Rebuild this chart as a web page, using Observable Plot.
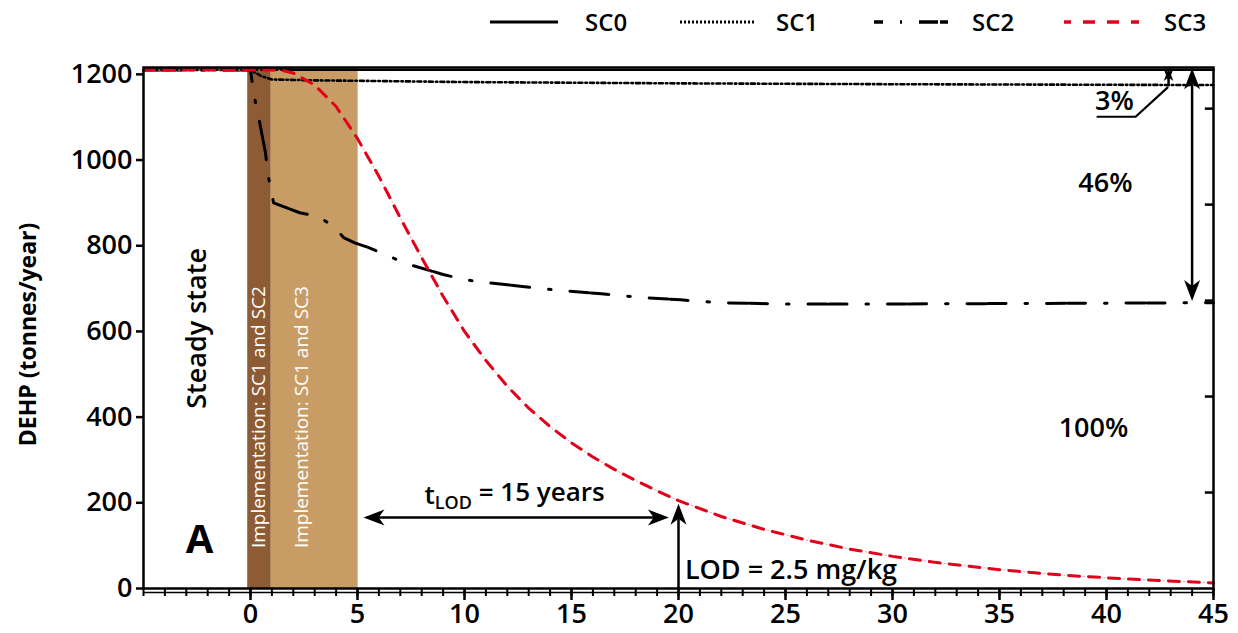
<!DOCTYPE html>
<html>
<head>
<meta charset="utf-8">
<script src="https://cdn.jsdelivr.net/npm/d3@7"></script>
<script src="https://cdn.jsdelivr.net/npm/@observablehq/plot@0.6"></script>
<style>
  html, body { margin: 0; padding: 0; background: #fff; }
  body { width: 1238px; height: 633px; overflow: hidden; font-family: "Open Sans", sans-serif; }
  #legend { display: block; }
  #chart svg { display: block; }
</style>
</head>
<body>
<svg id="legend" width="1238" height="45"></svg>
<div id="chart"></div>
<script>
// ---------- data ----------
const seriesNames = ["SC0", "SC1", "SC2", "SC3"];

const sc0Years  = [-5, 45];
const sc0Values = [1211, 1211];

const sc1Years  = [-5, 0, 0.5, 1, 3, 5, 10, 20, 30, 45];
const sc1Values = [1210, 1210, 1196, 1188, 1186, 1185, 1182, 1179, 1177, 1175];

const sc2Years  = [-5, 0, 0.15, 0.35, 0.7, 0.8, 0.98, 1.08, 2.3, 3.2, 4.0, 4.35, 4.9, 5.5, 6.4, 7.3, 9.0, 10.0, 11.0, 12.7, 13.6, 14.6, 16.4, 17.3, 18.3, 20.1, 21.0, 22.0, 23.8, 25, 30, 35, 40, 45];
const sc2Values = [1210, 1210, 1155, 1108, 1017, 971, 924, 900, 877, 868, 840, 819, 806, 796, 777, 758, 733, 721, 714, 705, 700, 695, 688, 684, 679, 674, 670, 667, 665, 664, 664, 665, 666, 667];

const sc3Years  = [-5, 0, 1, 1.5, 2, 3, 4, 5, 6, 7, 8, 9, 10, 11, 12, 13, 14, 15, 16, 17, 18, 19, 20, 22, 24, 26, 28, 30, 32, 35, 38, 41, 45];
const sc3Values = [1210, 1210, 1210, 1209, 1203, 1175, 1125, 1050, 962, 865, 772, 682, 600, 532, 472, 421, 378, 340, 307, 278, 252, 228, 205, 168, 138, 113, 92, 75, 61, 44, 31, 22, 13];

const xMajorTicks = [0, 5, 10, 15, 20, 25, 30, 35, 40, 45];
const xMinorTicks = d3.range(-5, 46, 1);
const yTicks = [0, 200, 400, 600, 800, 1000, 1200];
const yRightTicks = [224, 448, 672, 896, 1120];

const bandStarts = [-0.13, 0.97];
const bandEnds   = [0.97, 5.03];
const bandFills  = ["#8d5c35", "#c89d65"];

const yLabel = "DEHP (tonnes/year)";
const yLabelY = 593;

// annotations (data units)
const noteTexts = ["Steady state", "A", "3%", "46%", "100%", "LOD = 2.5 mg/kg"];
const noteX     = [-2.49, -2.38, 40.37, 39.95, 39.39, 20.3];
const noteY     = [607, 112, 1138, 945, 373, 42];

const implTexts = ["Implementation: SC1 and SC2", "Implementation: SC1 and SC3"];
const implX     = [0.37, 2.41];
const implY     = [400, 400];

const tlodText = "tLOD = 15 years";
const tlodX = 12.34, tlodY = 217;

// arrows: shafts and heads
const shaftX1 = [5.5, 20, 44.0, 42.9];
const shaftY1 = [166, 0, 1200, 1205];
const shaftX2 = [19.3, 20, 44.0, 42.9];
const shaftY2 = [166, 185, 690, 1172];

const bigHeadX   = [5.28, 19.55, 20, 44.0, 44.0];
const bigHeadY   = [166, 166, 198, 1214, 671];
const bigHeadRot = [270, 90, 0, 0, 180];

const smallHeadX   = [42.9, 42.9];
const smallHeadY   = [1214, 1183];
const smallHeadRot = [0, 180];

const leaderX = [39.58, 41.36, 42.85];
const leaderY = [1101, 1101, 1169];

// ---------- build tables ----------
const toRows = (xs, ys) => xs.map((x, i) => ({x, y: ys[i]}));
const sc0 = toRows(sc0Years, sc0Values);
const sc1 = toRows(sc1Years, sc1Values);
const sc2 = toRows(sc2Years, sc2Values);
const sc3 = toRows(sc3Years, sc3Values);
const bands = bandStarts.map((s, i) => ({x1: s, x2: bandEnds[i], fill: bandFills[i]}));
const notes = noteTexts.map((t, i) => ({t, x: noteX[i], y: noteY[i]}));
const impls = implTexts.map((t, i) => ({t, x: implX[i], y: implY[i]}));
const shafts = shaftX1.map((x1, i) => ({x1, y1: shaftY1[i], x2: shaftX2[i], y2: shaftY2[i]}));
const bigHeads = bigHeadX.map((x, i) => ({x, y: bigHeadY[i], rot: bigHeadRot[i]}));
const smallHeads = smallHeadX.map((x, i) => ({x, y: smallHeadY[i], rot: smallHeadRot[i]}));
const leader = toRows(leaderX, leaderY);

const arrowSymbol = {
  draw(ctx, size) {
    const r = Math.sqrt(size / Math.PI);
    const L = 2.1 * r, w = 0.8 * r;
    ctx.moveTo(0, 0);
    ctx.lineTo(w, L);
    ctx.lineTo(0, 0.72 * L);
    ctx.lineTo(-w, L);
    ctx.closePath();
  }
};

const FONT = "Open Sans";
const yMax = 1216;

const chart = Plot.plot({
  width: 1238,
  height: 588,
  marginLeft: 143,
  marginRight: 25,
  marginTop: 22,
  marginBottom: 45,
  style: {fontFamily: FONT, color: "black", background: "white", overflow: "visible"},
  x: {domain: [-5, 45]},
  y: {domain: [0, yMax]},
  marks: [
    Plot.rectY(bands, {x1: "x1", x2: "x2", y1: 0, y2: yMax, fill: "fill"}),
    // series
    Plot.line(sc0, {x: "x", y: "y", stroke: "black", strokeWidth: 2.5}),
    Plot.line(sc1, {x: "x", y: "y", stroke: "black", strokeWidth: 2.6, strokeDasharray: "4 3 1.5 3"}),
    Plot.line(sc2, {x: "x", y: "y", stroke: "black", strokeWidth: 3, strokeDasharray: "19 2 18 19 2.5 19"}),
    Plot.line(sc3, {x: "x", y: "y", stroke: "#f2a5ad", strokeWidth: 1, strokeDasharray: "1.5 18.5", strokeDashoffset: -15}),
    Plot.line(sc3, {x: "x", y: "y", stroke: "#e2001a", strokeWidth: 3, strokeDasharray: "11 9"}),
    // frame and axes
    Plot.frame({stroke: "black", strokeWidth: 2.5}),
    Plot.ruleY([0], {dy: 4, stroke: "black", strokeWidth: 1.5}),
    Plot.ruleY(yRightTicks, {x1: 45, x2: 44.62, stroke: "black", strokeWidth: 2.5}),
    Plot.axisY({ticks: yTicks, tickFormat: d => String(d), tickSize: 7, tickPadding: 4, fontSize: 27, fontWeight: 600, label: null, strokeWidth: 2.5}),
    Plot.axisX({ticks: xMinorTicks, tickSize: 8, tickFormat: () => "", label: null, strokeWidth: 2}),
    Plot.axisX({ticks: xMajorTicks, tickFormat: d => String(d), tickSize: 12, tickPadding: 3, fontSize: 27, fontWeight: 600, label: null, strokeWidth: 2.5}),
    Plot.text([yLabel], {x: -5, y: yLabelY, dx: -115, rotate: -90, textAnchor: "middle", fontSize: 23, fontWeight: 700, fill: "black"}),
    // annotations
    Plot.text(impls, {x: "x", y: "y", text: "t", rotate: -90, fontSize: 19, fill: "white"}),
    Plot.text(notes.filter(d => d.t === "Steady state"), {x: "x", y: "y", text: "t", rotate: -90, fontSize: 27, fontWeight: 600, fill: "black"}),
    Plot.text(notes.filter(d => d.t === "A"), {x: "x", y: "y", text: "t", fontSize: 40, fontWeight: 700, fill: "black"}),
    Plot.text(notes.filter(d => d.t.endsWith("%")), {x: "x", y: "y", text: "t", fontSize: 27, fontWeight: 600, fill: "black"}),
    Plot.text(notes.filter(d => d.t.startsWith("LOD")), {x: "x", y: "y", text: "t", textAnchor: "start", fontSize: 27, fontWeight: 600, fill: "black"}),
    Plot.text([{t: tlodText, x: tlodX, y: tlodY}], {x: "x", y: "y", text: "t", fontSize: 26, fontWeight: 600, fill: "black", className: "tlod"}),
    Plot.link(shafts, {x1: "x1", y1: "y1", x2: "x2", y2: "y2", stroke: "black", strokeWidth: 2.5}),
    Plot.line(leader, {x: "x", y: "y", stroke: "black", strokeWidth: 2.2}),
    Plot.dot(bigHeads, {x: "x", y: "y", rotate: "rot", r: 10, symbol: arrowSymbol, fill: "black", stroke: "none"}),
    Plot.dot(smallHeads, {x: "x", y: "y", rotate: "rot", r: 6, symbol: arrowSymbol, fill: "black", stroke: "none"})
  ]
});
document.getElementById("chart").appendChild(chart);

// subscript for t_LOD
d3.select(chart).selectAll(".tlod text").each(function() {
  const el = d3.select(this);
  el.text(null);
  el.append("tspan").text("t");
  el.append("tspan").attr("dy", "0.3em").attr("font-size", 18).text("LOD");
  el.append("tspan").attr("dy", "-0.3em").text(" = 15 years");
});

// ---------- legend ----------
const legendLineX1 = [490, 680, 874, 1064];
const legendLineX2 = [558, 756, 950, 1140];
const legendTextX  = [585, 776, 972, 1164];
const legendStroke = ["black", "black", "black", "#e2001a"];
const legendDash   = [null, "2 2", "9 17 2 17 19 2 8 40", "7 12 12 12 12 12 8 40"];
const legendWidth  = [3, 3, 3.5, 3.5];
const lg = d3.select("#legend");
seriesNames.forEach((name, i) => {
  lg.append("line")
    .attr("x1", legendLineX1[i]).attr("x2", legendLineX2[i])
    .attr("y1", 22).attr("y2", 22)
    .attr("stroke", legendStroke[i]).attr("stroke-width", legendWidth[i])
    .attr("stroke-dasharray", legendDash[i]);
  lg.append("text")
    .attr("x", legendTextX[i]).attr("y", 31)
    .attr("font-family", FONT).attr("font-size", 24).attr("font-weight", 600)
    .text(name);
});
</script>
</body>
</html>
